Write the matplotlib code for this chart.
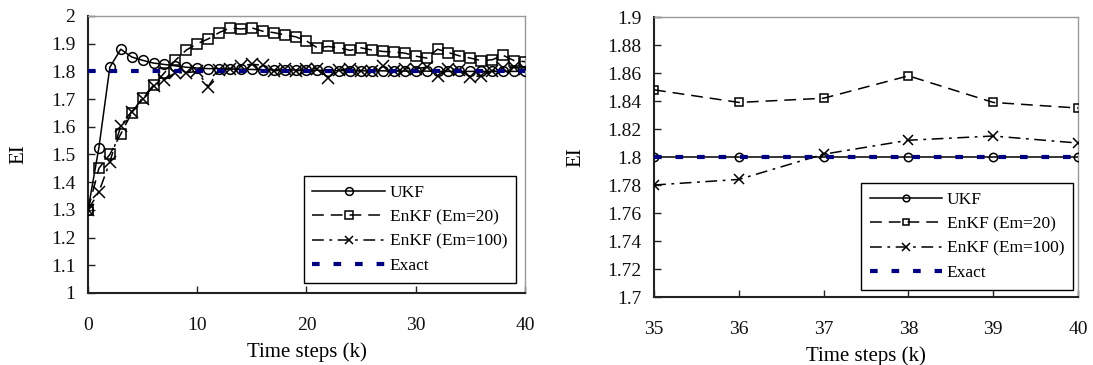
import matplotlib
matplotlib.use("Agg")
import matplotlib.pyplot as plt
from matplotlib.ticker import FixedLocator

# ---------------- data ----------------
k = list(range(0, 41))
ukf = [1.30, 1.525, 1.815, 1.88, 1.852, 1.84, 1.83, 1.825, 1.82, 1.815, 1.812,
       1.81, 1.81, 1.808, 1.808, 1.807, 1.806, 1.806, 1.805, 1.805, 1.804,
       1.804, 1.803, 1.803, 1.803, 1.802, 1.802, 1.802, 1.801, 1.801, 1.801,
       1.801, 1.80, 1.80, 1.80, 1.80, 1.80, 1.80, 1.80, 1.80, 1.80]
enkf20 = [1.30, 1.45, 1.50, 1.574, 1.65, 1.705, 1.75, 1.795, 1.84, 1.877, 1.90,
          1.917, 1.94, 1.957, 1.953, 1.957, 1.945, 1.94, 1.932, 1.925, 1.91,
          1.885, 1.89, 1.885, 1.876, 1.885, 1.877, 1.872, 1.87, 1.866, 1.855,
          1.848, 1.88, 1.868, 1.856, 1.848, 1.839, 1.842, 1.858, 1.839, 1.835]
enkf100 = [1.30, 1.365, 1.473, 1.603, 1.655, 1.70, 1.747, 1.77, 1.795, 1.795, 1.80,
           1.745, 1.805, 1.81, 1.82, 1.826, 1.822, 1.80, 1.81, 1.80, 1.81,
           1.81, 1.776, 1.805, 1.81, 1.80, 1.80, 1.82, 1.80, 1.81, 1.81,
           1.815, 1.785, 1.81, 1.805, 1.78, 1.784, 1.802, 1.812, 1.815, 1.81]
exact_value = 1.8
zoom_start = 35

labels = ["UKF", "EnKF (Em=20)", "EnKF (Em=100)", "Exact"]
left_yticks = [1.0, 1.1, 1.2, 1.3, 1.4, 1.5, 1.6, 1.7, 1.8, 1.9, 2.0]
left_yticklabels = ["1", "1.1", "1.2", "1.3", "1.4", "1.5", "1.6", "1.7", "1.8", "1.9", "2"]
left_xticks = [0, 10, 20, 30, 40]
right_yticks = [1.70, 1.72, 1.74, 1.76, 1.78, 1.80, 1.82, 1.84, 1.86, 1.88, 1.90]
right_yticklabels = ["1.7", "1.72", "1.74", "1.76", "1.78", "1.8", "1.82", "1.84",
                     "1.86", "1.88", "1.9"]
right_xticks = [35, 36, 37, 38, 39, 40]

# ---------------- style ----------------
plt.rcParams['font.family'] = ['Liberation Serif', 'DejaVu Serif']
plt.rcParams['lines.scale_dashes'] = False

fig = plt.figure(figsize=(10.93, 3.65), dpi=100)
ax1 = fig.add_axes([0.0805, 0.1973, 0.3998, 0.7589])
ax2 = fig.add_axes([0.5984, 0.1863, 0.3879, 0.767])

TICK_FS = 14
LEG_FS = 12.5
LAB_FS = 15


def draw(ax, xs, u, e20, e100, ms, mew):
    ax.plot(xs, u, color='black', lw=1.1, marker='o', ms=ms, mfc='none',
            mec='black', mew=mew, label=labels[0], zorder=3)
    ax.plot(xs, e20, color='black', lw=1.1, dashes=(8.5, 5), marker='s', ms=ms,
            mfc='none', mec='black', mew=mew, label=labels[1], zorder=3)
    ax.plot(xs, e100, color='black', lw=1.1, dashes=(8.5, 4, 2, 4), marker='x',
            ms=ms + 1, mec='black', mew=mew, label=labels[2], zorder=3)
    ax.plot([xs[0], xs[-1]], [exact_value, exact_value], color='#000080', lw=3.0,
            dashes=(5.5, 10), solid_capstyle='butt', dash_capstyle='butt',
            label=labels[3], zorder=4)


draw(ax1, k, ukf, enkf20, enkf100, 7, 1.1)
i0 = k.index(zoom_start)
draw(ax2, k[i0:], ukf[i0:], enkf20[i0:], enkf100[i0:], 6, 1.1)

ax1.set_xlim(0, 40)
ax1.set_ylim(1.0, 2.0)
ax1.yaxis.set_major_locator(FixedLocator(left_yticks))
ax1.set_yticklabels(left_yticklabels)
ax1.xaxis.set_major_locator(FixedLocator(left_xticks))

ax2.set_xlim(35, 40)
ax2.set_ylim(1.7, 1.9)
ax2.yaxis.set_major_locator(FixedLocator(right_yticks))
ax2.set_yticklabels(right_yticklabels)
ax2.xaxis.set_major_locator(FixedLocator(right_xticks))

for ax, anchor in ((ax1, (0.979, 0.036)), (ax2, (0.988, 0.025))):
    for s in ('left', 'bottom'):
        ax.spines[s].set_color('#222222')
        ax.spines[s].set_linewidth(1.5)
    for s in ('top', 'right'):
        ax.spines[s].set_color('#999999')
        ax.spines[s].set_linewidth(1.0)
    ax.tick_params(axis='both', which='major', direction='in', length=5,
                   width=1.0, color='#222222', labelsize=TICK_FS,
                   top=False, right=False)
    ax.tick_params(axis='x', pad=17)
    ax.tick_params(axis='y', pad=9)
    ax.set_xlabel("Time steps (k)", fontsize=LAB_FS, labelpad=6)
    ax.set_ylabel("EI", fontsize=LAB_FS, labelpad=16)
    for t in ax.get_xticklabels() + ax.get_yticklabels():
        t.set_color('#111111')
    leg = ax.legend(loc='lower right', bbox_to_anchor=anchor, borderaxespad=0,
                    fontsize=LEG_FS, frameon=True, fancybox=False, shadow=False,
                    handlelength=4.2, handletextpad=0.25, labelspacing=0.48,
                    borderpad=0.5, markerscale=0.8)
    leg.get_frame().set_edgecolor('black')
    leg.get_frame().set_linewidth(1.0)
    leg.get_frame().set_alpha(1.0)

fig.savefig("out.png", dpi=100)
